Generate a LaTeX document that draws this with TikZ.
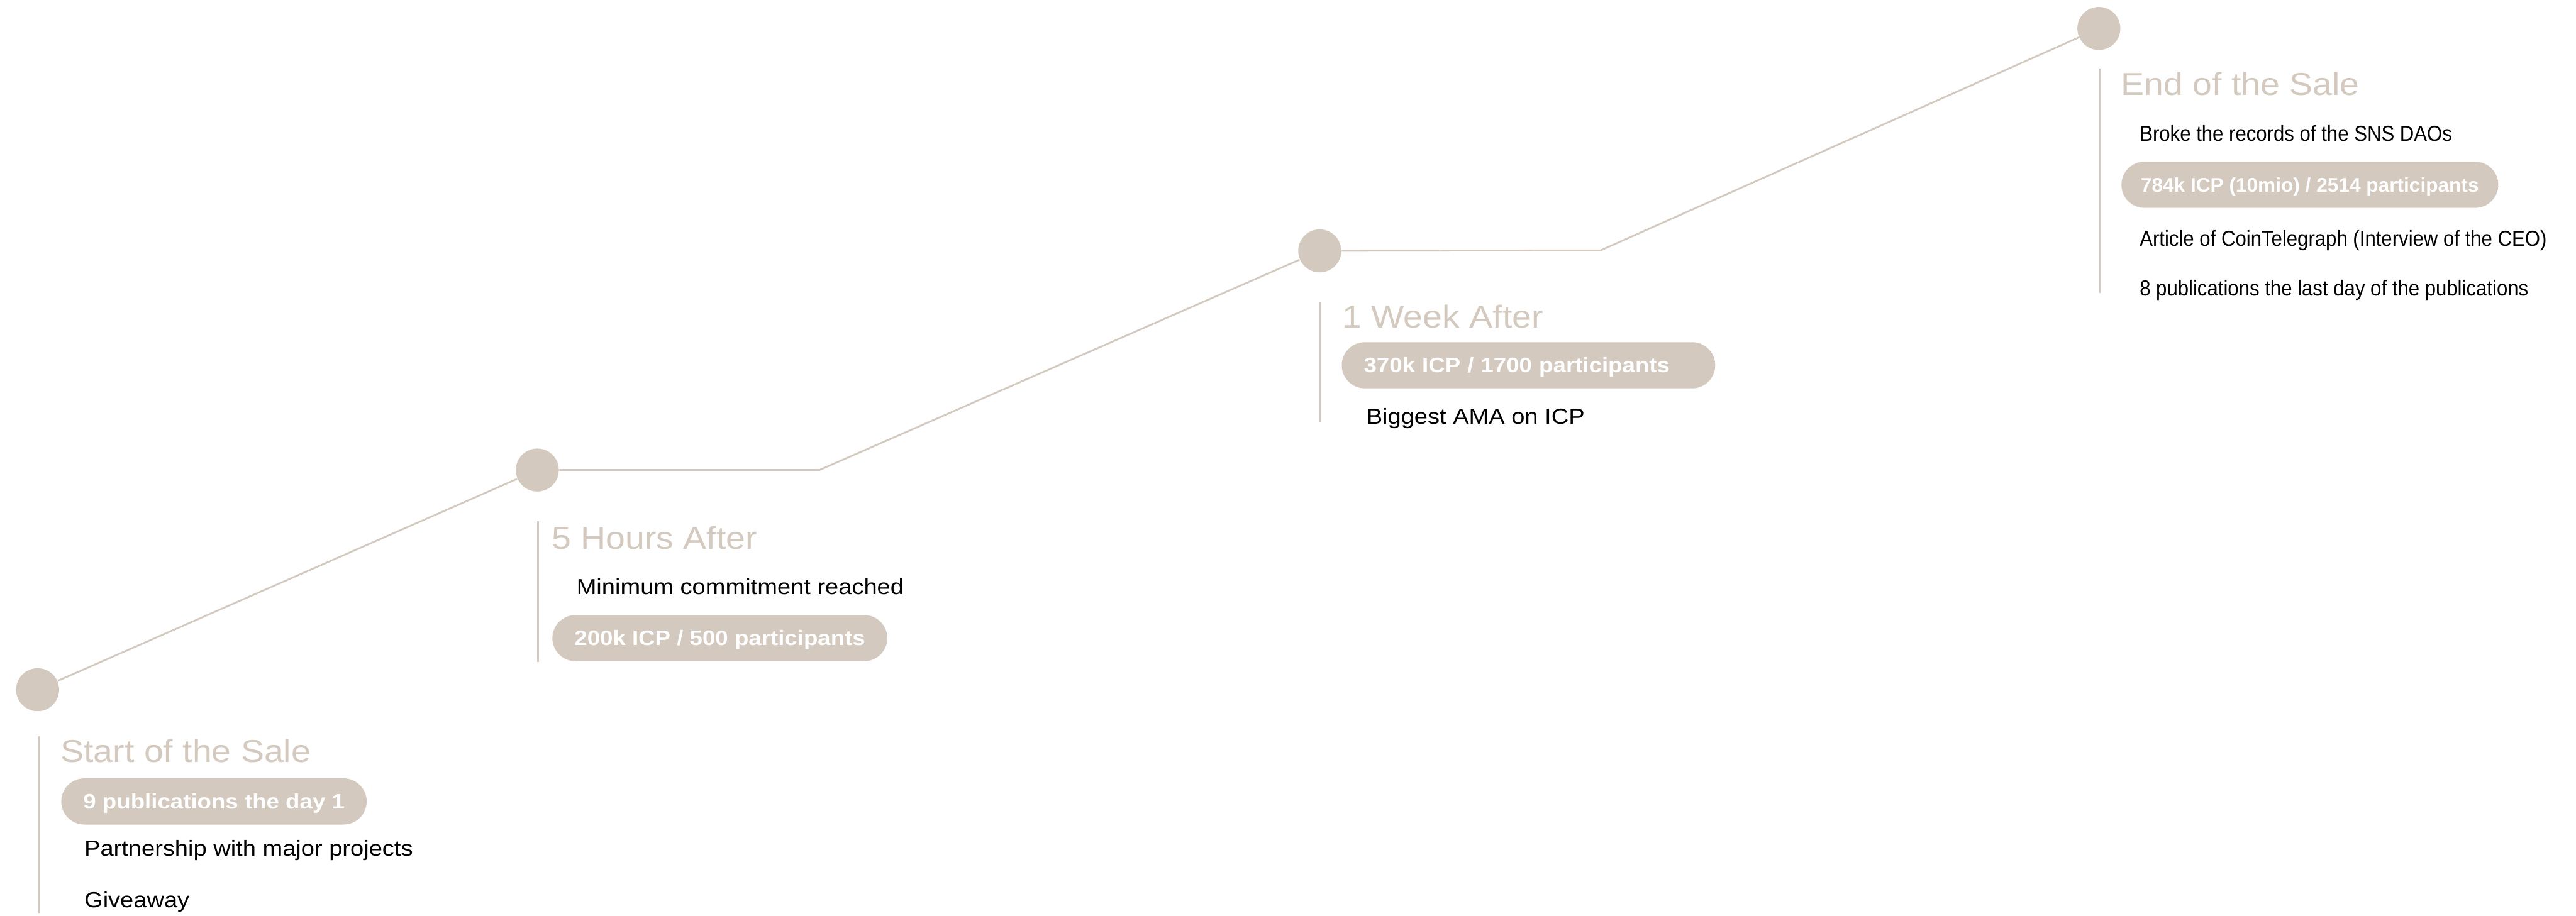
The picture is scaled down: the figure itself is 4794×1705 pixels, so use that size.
\documentclass[tikz,border=0pt]{standalone}
\usepackage{fontspec}
\setmainfont[FakeStretch=1.1]{Liberation Sans}
\newfontfamily\tightfont[FakeStretch=0.9]{Liberation Sans}
\newfontfamily\plainfont{Liberation Sans}
\definecolor{beige}{HTML}{D3C9BE}
\tikzset{
  dot/.style={circle, fill=beige, minimum size=16pt, inner sep=0pt},
  link/.style={draw=beige, line width=0.65pt},
  bar/.style={draw=beige, line width=0.65pt},
  ttl/.style={anchor=base west, inner sep=0pt, text=beige, font=\fontsize{11.8pt}{14pt}\selectfont},
  body/.style={anchor=base west, inner sep=0pt, text=black, font=\fontsize{8.1pt}{10pt}\selectfont},
  tbody/.style={anchor=base west, inner sep=0pt, text=black, font=\tightfont\fontsize{8.1pt}{10pt}\selectfont},
  pill/.style={anchor=west, fill=beige, rounded corners=8.6pt, minimum height=17.2pt, inner xsep=8.2pt, inner ysep=0pt, text height=5.3pt, text depth=0pt, text=white, font=\bfseries\fontsize{7.8pt}{9pt}\selectfont},
  tpill/.style={pill, inner xsep=7.2pt, font=\plainfont\bfseries\fontsize{7.4pt}{9pt}\selectfont},
}
\begin{document}
\begin{tikzpicture}[x=0.2pt, y=-0.2pt]
\useasboundingbox (0,0) rectangle (4794,1705);
% milestones
\node[dot] (c1) at (70,1284) {};
\node[dot] (c2) at (1000,875) {};
\node[dot] (c3) at (2456,467) {};
\node[dot] (c4) at (3906,53) {};
\coordinate (k2) at (1525,875);
\coordinate (k3) at (2979,466);
\draw[link] (c1) -- (c2);
\draw[link] (c2) -- (k2) -- (c3);
\draw[link] (c3) -- (k3) -- (c4);
% bars
\coordinate (b1a) at (73,1370); \coordinate (b1b) at (73,1700);
\coordinate (b2a) at (1001,970); \coordinate (b2b) at (1001,1233);
\coordinate (b3a) at (2457,562); \coordinate (b3b) at (2457,787);
\coordinate (b4a) at (3908,128); \coordinate (b4b) at (3908,545);
\draw[bar] (b1a) -- (b1b);
\draw[bar] (b2a) -- (b2b);
\draw[bar] (b3a) -- (b3b);
\draw[bar] (b4a) -- (b4b);
% group 1
\node[ttl] (t1) at (112,1419) {Start of the Sale};
\node[pill] (p1) at (113,1492) {9 publications the day 1};
\node[body] (g1a) at (156,1594) {Partnership with major projects};
\node[body] (g1b) at (156,1690) {Giveaway};
% group 2
\node[ttl] (t2) at (1026,1022) {5 Hours After};
\node[body] (g2a) at (1072,1107) {Minimum commitment reached};
\node[pill] (p2) at (1027,1188) {200k ICP / 500 participants};
% group 3
\node[ttl] (t3) at (2497,610) {1 Week After};
\node[pill, text width=122.6pt, align=left] (p3) at (2496,680) {370k ICP / 1700 participants};
\node[body] (g3a) at (2542,790) {Biggest AMA on ICP};
% group 4
\node[ttl] (t4) at (3946,177) {End of the Sale};
\node[tbody] (g4a) at (3981,263) {Broke the records of the SNS DAOs};
\node[tpill] (p4) at (3947,344) {784k ICP (10mio) / 2514 participants};
\node[tbody] (g4b) at (3981,458) {Article of CoinTelegraph (Interview of the CEO)};
\node[tbody] (g4c) at (3981,551) {8 publications the last day of the publications};
\end{tikzpicture}
\end{document}
